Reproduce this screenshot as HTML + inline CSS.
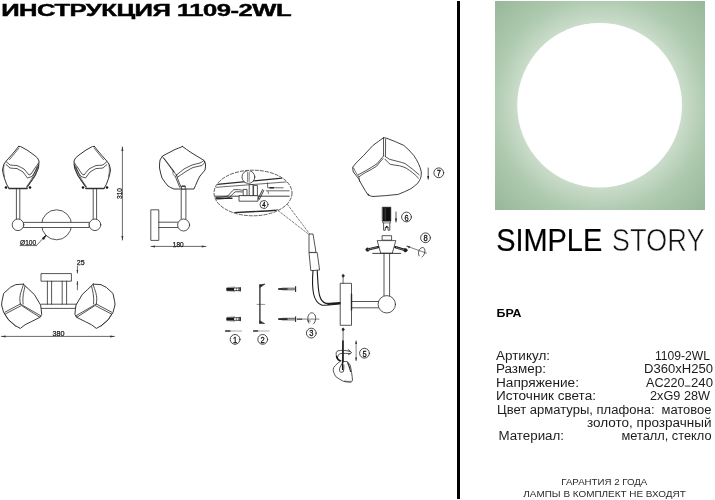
<!DOCTYPE html>
<html><head><meta charset="utf-8">
<style>
html,body{margin:0;padding:0;background:#fff;width:715px;height:500px;overflow:hidden}
svg{display:block;will-change:transform}
text{font-family:"Liberation Sans",sans-serif}
</style></head><body>
<svg width="715" height="500" viewBox="0 0 715 500">
<defs>
<radialGradient id="g" cx="600" cy="105" r="150" gradientUnits="userSpaceOnUse">
<stop offset="0" stop-color="#ffffff"/>
<stop offset="0.54" stop-color="#ffffff"/>
<stop offset="0.55" stop-color="#cadcca"/>
<stop offset="0.72" stop-color="#adc9ae"/>
<stop offset="1" stop-color="#97b699"/>
</radialGradient>
</defs>
<rect x="0" y="0" width="715" height="500" fill="#fff"/>
<rect x="457" y="1" width="3" height="498" fill="#000"/>
<rect x="495" y="1" width="210" height="209" fill="url(#g)"/>
<circle cx="599.5" cy="105.3" r="82.3" fill="#fff"/>
<text x="1.2" y="16" font-size="15.6" font-weight="bold" fill="#000" stroke="#000" stroke-width="0.4" letter-spacing="-0.3" textLength="290" lengthAdjust="spacingAndGlyphs">ИНСТРУКЦИЯ 1109-2WL</text>
<text x="496.2" y="250.7" font-size="31.4" fill="#000" stroke="#000" stroke-width="0.2" textLength="106" lengthAdjust="spacingAndGlyphs">SIMPLE</text>
<text x="611.7" y="250.7" font-size="31.4" fill="#111" stroke="#fff" stroke-width="0.6" textLength="93" lengthAdjust="spacingAndGlyphs">STORY</text>
<text x="496.5" y="317" font-size="10.9" font-weight="bold" fill="#000" textLength="25.0" lengthAdjust="spacingAndGlyphs">БРА</text>
<text x="496.0" y="359.5" font-size="12.3" fill="#1c1c1c" textLength="54.0" lengthAdjust="spacingAndGlyphs">Артикул:</text>
<text x="496.0" y="373" font-size="12.3" fill="#1c1c1c" textLength="50.0" lengthAdjust="spacingAndGlyphs">Размер:</text>
<text x="496.0" y="386.5" font-size="12.3" fill="#1c1c1c" textLength="83.0" lengthAdjust="spacingAndGlyphs">Напряжение:</text>
<text x="496.0" y="400" font-size="12.3" fill="#1c1c1c" textLength="100.0" lengthAdjust="spacingAndGlyphs">Источник света:</text>
<text x="497.0" y="413.5" font-size="12.3" fill="#1c1c1c" textLength="157.5" lengthAdjust="spacingAndGlyphs">Цвет арматуры, плафона:</text>
<text x="498.5" y="440" font-size="12.3" fill="#1c1c1c" textLength="65.5" lengthAdjust="spacingAndGlyphs">Материал:</text>
<text x="655.0" y="359.5" font-size="12.3" fill="#1c1c1c" textLength="55.0" lengthAdjust="spacingAndGlyphs">1109-2WL</text>
<text x="644.0" y="373" font-size="12.3" fill="#1c1c1c" textLength="69.0" lengthAdjust="spacingAndGlyphs">D360xH250</text>
<text x="646.0" y="386.5" font-size="12.3" fill="#1c1c1c" textLength="38.6" lengthAdjust="spacingAndGlyphs">AC220</text><rect x="684.8" y="385.6" width="5.6" height="0.95" fill="#2a2a2a"/><text x="691" y="386.5" font-size="12.3" fill="#1c1c1c" textLength="22" lengthAdjust="spacingAndGlyphs">240</text>
<text x="650.0" y="400" font-size="12.3" fill="#1c1c1c" textLength="60.0" lengthAdjust="spacingAndGlyphs">2xG9 28W</text>
<text x="661.5" y="413.5" font-size="12.3" fill="#1c1c1c" textLength="50.0" lengthAdjust="spacingAndGlyphs">матовое</text>
<text x="587.0" y="427" font-size="12.3" fill="#1c1c1c" textLength="124.5" lengthAdjust="spacingAndGlyphs">золото, прозрачный</text>
<text x="621.5" y="440" font-size="12.3" fill="#1c1c1c" textLength="90.0" lengthAdjust="spacingAndGlyphs">металл, стекло</text>
<text x="561.3" y="485.3" font-size="9.9" fill="#2a2a2a" textLength="86.0" lengthAdjust="spacingAndGlyphs">ГАРАНТИЯ 2 ГОДА</text>
<text x="523.3" y="496.6" font-size="9.9" fill="#2a2a2a" textLength="162.5" lengthAdjust="spacingAndGlyphs">ЛАМПЫ В КОМПЛЕКТ НЕ ВХОДЯТ</text>
<!--DRAWINGS-->
<g fill="none" stroke="#2a2a2a" stroke-width="0.8" stroke-linejoin="round" stroke-linecap="round">
<!-- ===== FRONT VIEW ===== -->
<g id="fshade">
<path d="M18.5,146.5 L20.5,146.5 C22.6,147.6 24.8,148.8 27,150 C29.4,151.6 31.6,153.4 34,155 C35.2,156 36.4,157 37.5,158 L39,161 C38.9,163.4 38.7,165.8 38.5,168 C37.4,170.8 36.2,173.4 35,176 C33.4,178.4 31.6,180.8 30,183 L27,187.5 L27,188.5 L9,188.5 C8.2,187 7.4,185.6 6.5,184 C5.6,181.6 4.8,179.4 4,177 C3.4,174.6 2.8,172.4 2.5,170 C2.8,168 3.4,166 4,164 C5.2,162.2 6.6,160.6 8,159 C10.4,156.4 12.6,153.8 15,151 L18.5,146.5 Z" fill="#fff" stroke-width="0.9" stroke="#1f1f1f"/>
<path d="M9.5,159.6 C12.8,155.6 16,151.8 19,148" stroke-width="0.7"/>
<path d="M6,161.5 C7.4,162.6 8.6,163.8 10,165 C12.4,165.4 14.6,165.4 17,165.5 C19.4,166.6 21.8,167.8 24,169 C25.8,171 27.4,173 29,175 L31,174 C32.4,172 33.8,170 35,168 C36.2,166.4 37.4,164.6 38.5,163"/>
<path d="M6,164.5 C7.4,165.6 8.6,166.8 10,168 C12.4,168.4 14.6,168.4 17,168.5 C19,169.6 21,170.8 23,172 C24.6,174 26,176 27.5,178 L32,176.5 C33.4,174.4 34.8,172.2 36,170 C36.9,168.4 37.7,166.6 38.5,165"/>
<path d="M38.5,165 C37.4,168.6 36.2,172 35,175 C33,179 30.6,182.6 28,186 M36.8,167.2 C35.6,170.6 34.4,173.6 33,176.6 C31,180.4 28.8,183.6 26.6,186.6" stroke-width="0.7"/>
<path d="M4,165 C3.4,169 3.4,173 4.6,176.6" stroke-width="0.6"/>
<path d="M9,188.6 L27,188.6" stroke-width="1.5" stroke="#333"/>
<circle cx="6" cy="187.5" r="1.3" fill="#111" stroke="none"/>
<circle cx="30" cy="187.5" r="1.3" fill="#111" stroke="none"/>
</g>
<use href="#fshade" transform="translate(113,0) scale(-1,1)"/>
<!-- stems -->
<path d="M16.4,189 V219.2 M19.8,189 V219.2"/>
<path d="M93.2,189 V219.2 M96.6,189 V219.2"/>
<!-- big circle -->
<circle cx="56.6" cy="224.8" r="15"/>
<rect x="23.8" y="222.4" width="65.4" height="5.1" fill="#fff"/>
<circle cx="18" cy="224.8" r="5.8" fill="#fff"/>
<circle cx="95" cy="224.8" r="5.8" fill="#fff"/>
<!-- 310 dim -->
<path d="M122.4,147 V240" stroke-width="0.7"/>
<path d="M122.4,146.6 L121.4,151 L123.4,151 Z M122.4,240.2 L121.4,236 L123.4,236 Z" fill="#333" stroke="none"/>
<!-- Ø100 leader -->
<path d="M36.5,245.4 L45.7,235.6 M20,245.6 H36.5" stroke-width="0.7"/>
<path d="M45.7,235.6 L42.4,238.2 L43.5,239.3 Z" fill="#111" stroke="#111" stroke-width="0.8"/>

<!-- ===== SIDE VIEW ===== -->
<path d="M182.5,146.5 C180,147.6 177.4,148.6 175,149.5 C170.8,151.6 166.6,153.8 162.5,156 C161.6,157.4 160.8,158.6 160,160 C159.6,162.6 159.4,165.4 159.5,168 C160.2,171.4 161,174.8 162,178 C163.8,180.8 165.8,183.4 168,186 C169.8,187.2 171.8,188.2 174,189 L194,189 C195,186.6 196,184.2 197,182 C197.8,180 198.8,178 200,176 C201.6,174 203.4,172 205,170 C205.4,168 205.6,166 205.5,164 C205.2,162.8 204.6,161.6 204,160.5 C202.8,159.6 201.4,158.8 200,158 C197,156.2 194,154.4 191,152.5 C188.2,150.6 185.4,148.6 182.5,146.5 Z" fill="#fff" stroke-width="0.9" stroke="#1f1f1f"/>
<path d="M162.5,156.6 C166,161.4 169.6,166.2 173,171 C174.2,172.4 175.4,173.8 176.5,175 M164.2,158.6 C167.6,163 171,167.4 174.2,171.6" stroke-width="0.8"/>
<path d="M173,171 C172.6,172.6 173,174.4 174,175.6 C175,176.4 176,176.2 176.8,175.6" stroke-width="0.6"/>
<path d="M176.5,175 C177.6,179 179.2,183 181,187 M175.4,176.6 C176.8,180.4 178.4,184 179.8,187.4" stroke-width="0.8"/>
<path d="M176.5,175 C179,173 181.6,171 184,169 C186.6,167.6 189.4,166.2 192,165 C194.6,164.4 197.4,163.6 200,163 C201.4,162.2 202.8,161.4 204,160.5"/>
<path d="M177.4,177.2 C180,175.6 182.6,173.8 185,172 C187.6,170.4 190.4,168.8 193,167.5 C196,166.8 199,166.2 202,165.5 C203.2,164.4 204.2,163 205,162"/>
<path d="M181.2,189 V219.2 M185.9,189 V219.2"/>
<rect x="182" y="186" width="3.2" height="3" fill="#fff" stroke-width="0.8"/><path d="M182.2,186.2 H185" stroke-width="1.1"/>
<rect x="151.2" y="209.8" width="7.6" height="30.6" fill="#fff"/>
<path d="M158.8,222.2 H178 M158.8,227.5 H178"/>
<circle cx="183.6" cy="225" r="6" fill="#fff"/>
<!-- 180 dim -->
<path d="M151,246.4 H206" stroke-width="0.7"/>
<path d="M150.8,246.4 L155,245.4 L155,247.4 Z M206,246.4 L201.8,245.4 L201.8,247.4 Z" fill="#333" stroke="none"/>

<!-- ===== TOP VIEW ===== -->
<path d="M41.4,304.2 H76.8 M41.4,308.4 H76.8"/>
<rect x="41.4" y="273.6" width="30" height="7.6" fill="#fff"/>
<path d="M47.4,281.2 V304.2 M51.6,281.2 V304.2 M62.2,281.2 V304.2 M66.6,281.2 V304.2"/>
<g id="tshade">
<path d="M23.4,284.2 C20.8,284.2 18.2,284.4 15.6,284.7 C13.8,285.5 12.1,286.4 10.4,287.3 C8.1,289.4 5.8,291.4 3.6,293.5 C3,295.9 2.5,298.4 2.1,300.8 C1.8,302.2 1.6,303.6 1.6,305 C2.2,307.4 2.9,309.9 3.6,312.3 C5.2,314.7 6.7,317.2 8.3,319.6 C10.7,321.7 13.2,323.8 15.6,325.8 C17.2,326.7 18.7,327.6 20.3,328.4 C21.9,327.2 23.4,326 25,324.8 C27.1,323.8 29.1,322.7 31.2,321.7 C34,320.3 36.8,318.9 39.6,317.5 C40.3,316.5 41,315.4 41.7,314.4 C41.5,311.3 41,308.1 40.6,305 C38.5,301.5 36.5,298.1 34.4,294.6 C30.7,291.1 27.1,287.7 23.4,284.2 Z" fill="#fff" stroke-width="0.9" stroke="#1f1f1f"/>
<path d="M23.4,284.7 C22.5,287.3 21.7,289.9 20.8,292.5 C20.4,294.4 20,296.3 19.8,298.2 C19.9,300.1 20.1,302.1 20.3,304 M25,286.3 C24.4,288.7 23.9,291.1 23.4,293.5 C23.2,295.3 23,297 22.9,298.8 C22.9,300.5 23,302.3 23.1,304"/>
<path d="M20.3,304 L4.7,312.3 M21.3,305.6 L5.6,313.8"/>
<path d="M20.3,304 L41.1,316 M22.2,306 L40,317.4"/>
<path d="M4.6,313.6 C6,316 7.6,318.4 9.2,320.6 C11.4,322.6 13.6,324.4 15.8,326.4" stroke-width="0.6"/>
</g>
<use href="#tshade" transform="translate(116.6,0) scale(-1,1)"/>
<!-- 25 dim -->
<path d="M77.4,266.4 V273 M77.4,281.4 V289.8" stroke-width="0.7"/>
<path d="M77.4,273.4 L76.6,270 L78.2,270 Z M77.4,281 L76.6,284.4 L78.2,284.4 Z" fill="#333" stroke="none"/>
<!-- 380 dim -->
<path d="M1.4,336.4 H114.4" stroke-width="0.7"/>
<path d="M1.2,336.4 L5.6,335.4 L5.6,337.4 Z M114.6,336.4 L110.2,335.4 L110.2,337.4 Z" fill="#333" stroke="none"/>
</g>
<g font-family="Liberation Sans, sans-serif" fill="#1a1a1a" stroke="#1a1a1a" stroke-width="0.25">
<text x="20" y="245.4" font-size="7.6" textLength="16.2" lengthAdjust="spacingAndGlyphs">Ø100</text>
<text x="172.8" y="247" font-size="7" textLength="10.8" lengthAdjust="spacingAndGlyphs">180</text>
<text x="52.4" y="336" font-size="7" textLength="12" lengthAdjust="spacingAndGlyphs">380</text>
<text x="76.8" y="264.8" font-size="6.4" textLength="7.8" lengthAdjust="spacingAndGlyphs">25</text>
<text transform="translate(122.4,199) rotate(-90)" font-size="6.4" textLength="11" lengthAdjust="spacingAndGlyphs">310</text>
</g>
<g fill="none" stroke="#2a2a2a" stroke-width="0.8" stroke-linejoin="round" stroke-linecap="round">
<!-- ===== DETAIL ELLIPSE ===== -->
<ellipse cx="253" cy="193" rx="39" ry="22.8" stroke-dasharray="3.2,1.8" stroke-width="0.75"/>
<path d="M287.5,204.5 L310,234.5 M278,210.5 L309,234.5" stroke-dasharray="2,1.6" stroke-width="0.6"/>
<clipPath id="ec"><ellipse cx="253" cy="193" rx="38.6" ry="22.4"/></clipPath>
<g clip-path="url(#ec)">
<!-- rails -->
<path d="M217.2,184.4 L282,178.2" stroke-width="1.3"/>
<path d="M215,187.4 L288,181.8" stroke-width="0.7"/>
<path d="M214.8,196.2 L289.2,196.2" stroke-width="0.9"/>
<path d="M214.8,198.2 L232,198.2" stroke-width="1.4"/>
<path d="M234,212.6 C248,212 262,211.4 278,210.2" stroke-width="1.4"/>
<!-- wire -->
<path d="M216,197.4 C222,197 226,196.6 228,195.8 C230,193.5 232,191 234,189.6 C237,189.4 240,189.8 242.4,190.2"/>
<path d="M216,199.2 C222,199 227,198.4 229.4,197.6 C231.5,195 233.5,193 235.4,191.8 C238,191.6 240,191.8 242.4,192"/>
<!-- bulb top circle -->
<circle cx="248.4" cy="177" r="6.4" fill="#fff"/>
<path d="M247.6,172.5 V181.5 M249.2,172.5 V181.5" stroke-width="0.6"/>
<!-- connector block -->
<rect x="239.4" y="195.6" width="18.6" height="5.6" fill="#fff"/>
<rect x="243.6" y="189.4" width="3.4" height="6.2" fill="#fff"/>
<rect x="249.6" y="184.6" width="3.4" height="11" fill="#fff"/>
<rect x="254" y="185.4" width="3.4" height="10.2" fill="#fff"/>
<path d="M258,199 L262.6,189.6 M259.2,199.6 L263.8,190.4" stroke-width="0.9"/>
<!-- right side marks -->
<path d="M267.6,183 V187.8 H283.2" stroke-width="0.7"/>
<path d="M270,187.8 H273.4" stroke-width="1.4"/>
<path d="M266.4,190.8 H289.2" stroke-width="0.7"/>
<path d="M268,191.4 L268.6,193.6" stroke-width="0.6"/>
</g>
<circle cx="264" cy="204.5" r="4" stroke-width="0.8"/>

<!-- ===== HARDWARE ===== -->
<g id="anchor">
<path d="M226.3,289.3 H234" stroke-width="3" stroke="#1a1a1a" stroke-linecap="butt"/>
<path d="M228,287.4 V291.2 M230,287.2 V291.4 M232,287 V291.6 M234,286.8 V291.8" stroke-width="0.6" stroke="#1a1a1a"/>
<path d="M234.2,288 H240 V290.6 H234.2" stroke-width="0.8" fill="#fff"/>
<path d="M236.4,287.8 V290.8 M238.4,287.8 V290.8" stroke-width="0.5"/>
<path d="M240.2,287.6 V291" stroke-width="1.2" stroke="#1a1a1a"/>
</g>
<use href="#anchor" transform="translate(0,29.7)"/>
<!-- bracket -->
<path d="M259.9,285 V323.3" stroke-width="1.3"/>
<path d="M259.9,284.8 L265,284 L260.4,287.2 Z M259.9,323.3 L264.6,323.6 L260.2,321 Z" fill="#222" stroke-width="0.6"/>
<path d="M257,304.4 H264.8" stroke-width="0.5"/>
<!-- lines below -->
<path d="M225.6,331 H230 M253.6,331 H257.6" stroke-width="1.5"/>
<path d="M230,331 H241.7 M257.6,331 H269" stroke-width="0.7" stroke="#888"/>
<circle cx="235.1" cy="339.4" r="4.9" stroke-width="0.85"/>
<circle cx="262.7" cy="339.4" r="4.9" stroke-width="0.85"/>
<!-- screws 3 -->
<g id="screw">
<path d="M278.4,289 L283,288.2 H294.6 M278.4,289 L283,289.8 H294.6" stroke-width="0.8"/>
<path d="M279.5,289 H287" stroke-width="1.6"/>
<path d="M295.6,286.6 V291.4" stroke-width="1.1"/>
</g>
<use href="#screw" transform="translate(0,30.1)"/>
<path d="M297.3,319.1 H301.5" stroke-width="1.4"/>
<path d="M301.5,319.1 H319" stroke-width="0.6"/>
<path d="M308.6,322 C307,319 307.6,314.8 310.6,313 C313.6,312 315.8,315 315.6,318.4 C315.4,321 314.6,323 313.4,324" stroke-width="0.8"/>
<path d="M309,323.2 L307.6,320.6 L310.6,321.2" stroke-width="0.6"/>
<circle cx="311.3" cy="333.1" r="4.9" stroke-width="0.85"/>

<!-- ===== ASSEMBLY ===== -->
<!-- cable connector -->
<path d="M309.4,234 L313,234 L316,252.4 L309.4,252.4 Z" fill="#fff"/>
<path d="M309.4,252.6 L317.2,252.6 L319.6,270 L311.2,270.6 Z" fill="#fff"/>
<path d="M313,270.6 C312.4,278 312.2,287 313.6,294 C315,300 318,304 322,305.2 C328,305.6 334,304.4 340.6,303.6" stroke-width="1.1" stroke="#1a1a1a"/>
<path d="M317.2,270.6 C317.8,278 317.8,288 319.4,295 C320.6,299.6 323,302.6 326,303.4 C331,303.4 336,302.8 340.6,302.6" stroke-width="1.1" stroke="#1a1a1a"/>
<path d="M328,304.2 C332,304 336,303.4 340.6,303.1" stroke-width="1.6" stroke="#1a1a1a"/>
<!-- wall plate -->
<rect x="340.6" y="283.3" width="10.9" height="42" fill="#fff"/>
<path d="M343.1,276.4 V283.3 M343.1,328.8 V362" stroke-width="0.7"/>
<path d="M351.5,294 V310" stroke-width="1.4"/>
<ellipse cx="343.1" cy="275.8" rx="0.9" ry="1.4" fill="#222"/>
<ellipse cx="343.1" cy="329.4" rx="0.9" ry="1.4" fill="#222"/>
<path d="M342.9,341 V369" stroke-width="1.6" stroke="#1a1a1a"/>
<path d="M351.5,301.5 H379 M351.5,307.8 H379"/>
<path d="M384,253.2 V296.2 M389.6,253.2 V296.2"/>
<circle cx="386.8" cy="304.3" r="8.7" fill="#fff"/>
<!-- socket -->
<rect x="382.5" y="235.7" width="9.1" height="4.5" fill="#fff"/>
<path d="M377.6,240.6 L395.8,240.6 L392.3,253.2 L381.1,253.2 Z" fill="#fff"/>
<path d="M372.7,253.4 H400.7" stroke-width="0.9"/>
<path d="M367.4,249.6 L378,247.2" stroke-width="2.4" stroke="#1a1a1a"/><circle cx="367.6" cy="249.6" r="1.7" fill="#1a1a1a"/>
<path d="M395.4,247.2 L405.4,250.2" stroke-width="2.4" stroke="#1a1a1a"/><circle cx="405.4" cy="250.2" r="1.7" fill="#1a1a1a"/>
<path d="M368.2,249.4 L377,247.4 M396.4,247.6 L404.4,250" stroke="#fff" stroke-width="0.5" stroke-dasharray="0.8,1.4"/>
<!-- screws 8 arrow -->
<path d="M407,246.2 L426.6,253.2" stroke-width="0.6"/>
<path d="M407,246.2 L410,246.6 L409,248" fill="#222" stroke-width="0.5"/>
<path d="M419,255.8 C417.6,252.5 419,248.5 422,247.6 C424.6,247 425.4,250.4 424.6,253 C424,255 423,256.4 422,257" stroke-width="0.8"/>
<circle cx="425.5" cy="237.8" r="4.9" stroke-width="0.85"/>
<!-- bulb -->
<rect x="382.6" y="207.2" width="8.2" height="13.8" fill="#111" stroke="#111" stroke-width="0.6"/>
<path d="M385.2,208.4 V220" stroke="#777" stroke-width="0.5"/>
<rect x="383" y="221.3" width="7.6" height="1.6" fill="#fff" stroke-width="0.6"/>
<path d="M383.6,223 V230.2 H385.4 V227.4 M389.8,223 V230.2 H388 V227.4 M385.4,227.4 H388" stroke-width="0.8"/>
<circle cx="386.8" cy="226.6" r="0.9" fill="#111" stroke="none"/>
<path d="M396,212 V222" stroke-width="0.8"/>
<path d="M396,222.2 L395,218.6 L397,218.6 Z" fill="#222" stroke="none"/>
<circle cx="406.5" cy="217" r="4.9" stroke-width="0.85"/>
<!-- shade 7 -->
<path d="M383.5,137.7 C384.8,137.8 386,138 387,138.4 C392.6,140.4 398.4,142.8 403.8,145.4 C407.4,148.4 410.6,151.6 413.6,155.2 C415.6,158 417.2,160.8 418.5,163.6 C419.8,166.4 420.8,169.2 421.3,172 C421.4,174.2 421.2,176.2 420.6,178.3 C419.8,180 418.9,181.6 417.8,183.2 C415.6,185.2 413.3,187 410.8,188.8 C406.8,190.8 402.6,192.6 398.2,194.4 C390,195.4 381.5,196 373,196.5 C371.2,196.2 369.6,195.7 368.1,195.1 C366.2,192.2 364.3,189.1 362.5,186 C361.1,183.4 359.7,180.8 358.3,178.3 C356.6,176.2 354.9,174.1 353.4,172 C352.8,170.4 352.6,168.8 352.7,167.1 C353.8,165.6 355,164.2 356.2,162.9 C358.8,160.4 361.4,157.8 363.9,155.2 C367,151.9 370,148.7 373,145.4 C376.6,142.8 380,140.2 383.5,137.7 Z" fill="#fff" stroke-width="0.9"/>
<path d="M383.5,138 C383.6,144 383.6,150 383.5,155.9 M385.6,139.1 C385.6,145 385.6,150.4 385.4,156.6"/>
<path d="M383.5,155.9 C381.4,158.4 379.4,161 377.2,163.6 C373.6,166 369.8,168.4 366,170.6 C363.4,172 360.8,173.4 358.3,174.8 M383,158.6 C380.8,161 378.6,163.6 376.6,166.2 C373,168.6 369.4,170.6 365.4,172.6 C363,174 360.6,175.6 359,176.8"/>
<path d="M385.4,156.6 C386.8,157.6 388.2,158.6 389.8,159.4 C392.6,160.2 395.4,160.8 398.2,161.5 C400.6,162.1 403,162.8 405.2,163.6 C410,167 414.6,170.8 419.2,174.8 M385,159.2 C386.6,161 388.4,163 390.2,164.3 C393.4,165 396.6,165.3 399.6,165.8 C402,166.4 404.2,167.2 406,168 C410.6,171 414.8,174.2 418.6,178.2"/>
<path d="M353.6,168 C355,171.4 357,174.6 358.8,176.8 C359.4,178.2 359.6,180 359.6,181.4" stroke-width="0.7"/>
<circle cx="368.4" cy="194.6" r="0.8" fill="#333" stroke="none"/>
<path d="M428.2,168 V179.2" stroke-width="0.8"/>
<path d="M428.2,179.4 L427.2,176 L429.2,176 Z" fill="#222" stroke="none"/>
<circle cx="438.8" cy="172.8" r="4.9" stroke-width="0.85"/>
<!-- tool 5 -->
<path d="M336.6,356.6 C335.6,353.5 336,351.4 338,350.8 C341.5,350 346,350.2 349.6,351.4" stroke-width="0.8"/>
<path d="M337.4,358.2 C337.8,355.8 338.6,354 340.4,353.6 C343.5,353.2 347,353.4 350,353.6" stroke-width="0.8"/>
<path d="M348.2,349.6 L351.6,352.6 L348.6,354.6" stroke-width="0.9"/>
<path d="M336.6,356.6 C337.2,359 338.6,360.4 340.6,361" stroke-width="1.6" stroke="#111"/>
<path d="M341,360.7 C338.5,362.6 335.5,365 333.8,367.4 C333.2,368.6 333.2,369.8 333.3,370.8 C333.8,372.8 334.6,374.8 335.7,376.5 C338,378.2 340.6,380 343.4,381.3 C345.8,381.8 348.2,382.2 350.6,382.3 C351.6,382 352.3,381.2 352.5,380.4 C352.4,377.8 352,375.2 351.6,372.7 C351.2,370 350.8,367.4 350.1,365 C349.4,363.8 348.4,362.4 347.2,361.6 C346,361.4 344.6,361.4 343.4,361.6" fill="#fff" stroke-width="0.8"/>
<path d="M343.2,362 C341.8,364.2 340,366.6 339.5,368.8 C339.4,370.4 339.8,371.8 340.5,372.2 C341.6,372.4 342.6,372.2 343.4,371.7 C343.8,369.6 344,367.4 343.9,365" stroke-width="0.8"/>
<path d="M347.6,362.8 C348.8,365.4 350,368.6 350.6,372" stroke-width="1.2" stroke-dasharray="1.2,0.8"/>
<path d="M344.6,381 C346.8,381.4 349,381.6 351,381.2" stroke-width="0.6"/>
<path d="M342.6,361 V369.4" stroke-width="1.4" stroke="#1a1a1a"/>
<path d="M356.1,341 V360.6" stroke-width="0.8" stroke="#666"/>
<path d="M356.1,340.6 L355.2,344 L357,344 Z M356.1,361 L355.2,357.6 L357,357.6 Z" fill="#222" stroke="none"/>
<circle cx="364.5" cy="353.2" r="4.9" stroke-width="0.85"/>
</g>
<g font-family="Liberation Sans, sans-serif" fill="#111" stroke="#111" stroke-width="0.3" font-size="9.2" text-anchor="middle">
<text x="235.1" y="342.7" textLength="4.2" lengthAdjust="spacingAndGlyphs">1</text>
<text x="262.7" y="342.7" textLength="4.2" lengthAdjust="spacingAndGlyphs">2</text>
<text x="311.3" y="336.4" textLength="4.2" lengthAdjust="spacingAndGlyphs">3</text>
<text x="406.6" y="220.6" textLength="4.2" lengthAdjust="spacingAndGlyphs">6</text>
<text x="425.5" y="241.1" textLength="4.2" lengthAdjust="spacingAndGlyphs">8</text>
<text x="438.8" y="176.1" textLength="4.2" lengthAdjust="spacingAndGlyphs">7</text>
<text x="364.5" y="356.5" textLength="4.2" lengthAdjust="spacingAndGlyphs">5</text>
<text x="264" y="207.1" font-size="6.8" textLength="3.4" lengthAdjust="spacingAndGlyphs">4</text>
</g>

<!--ENDDRAWINGS-->
</svg>
</body></html>
